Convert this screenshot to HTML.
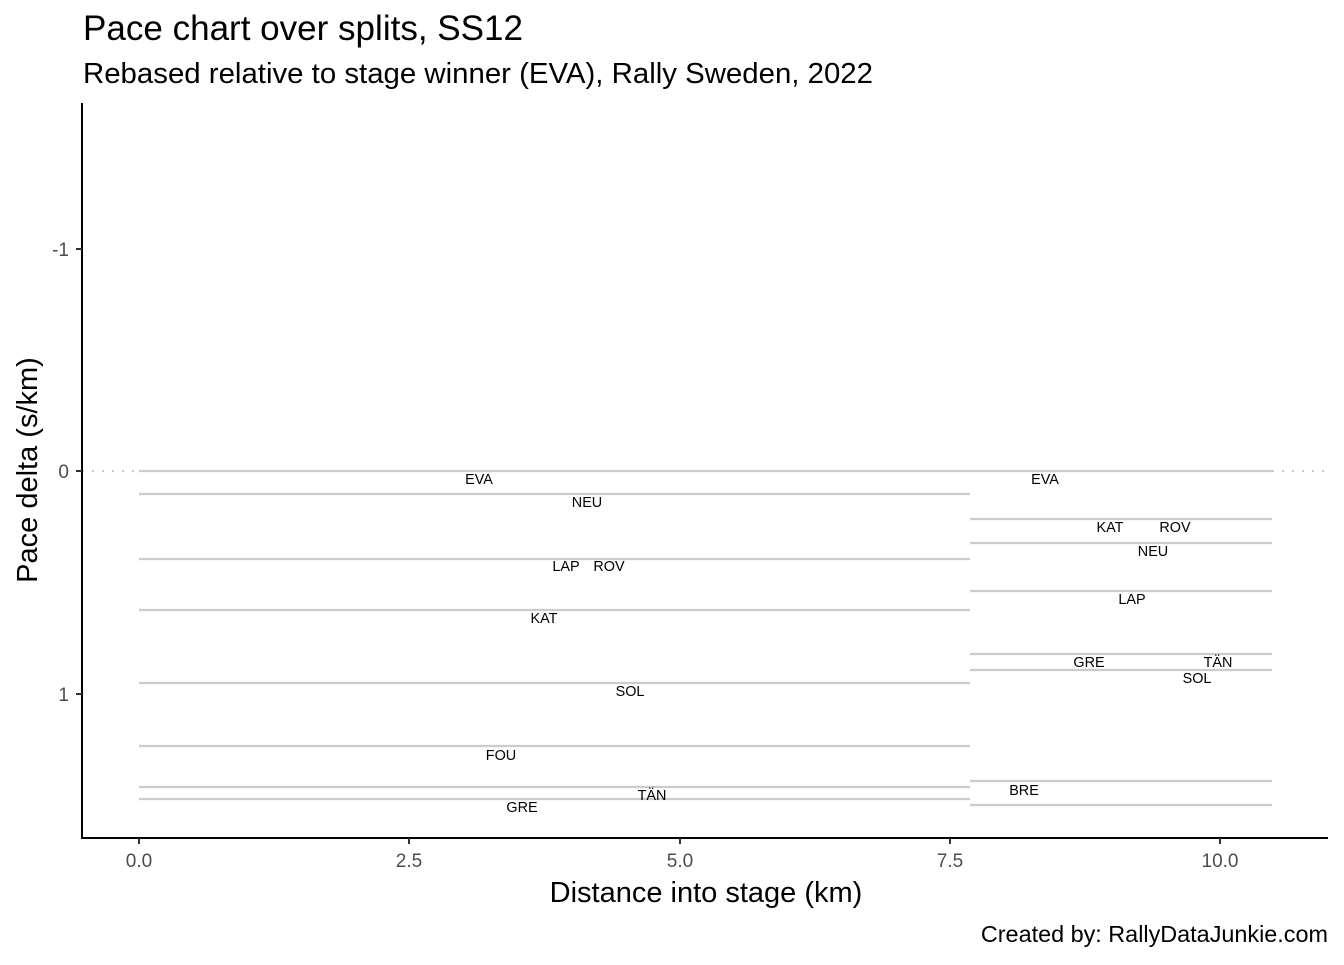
<!DOCTYPE html>
<html><head><meta charset="utf-8"><style>
html,body{margin:0;padding:0;background:#fff}
svg text{font-family:"Liberation Sans",Arial,sans-serif}
</style></head><body>
<svg width="1344" height="960" viewBox="0 0 1344 960" xmlns="http://www.w3.org/2000/svg">
<rect width="1344" height="960" fill="#fff"/>
<text x="83" y="40" font-size="35" fill="#000" textLength="440" lengthAdjust="spacingAndGlyphs">Pace chart over splits, SS12</text>
<text x="83" y="83" font-size="29" fill="#000" textLength="790" lengthAdjust="spacingAndGlyphs">Rebased relative to stage winner (EVA), Rally Sweden, 2022</text>
<line x1="82" y1="471" x2="1328" y2="471" stroke="#cccccc" stroke-width="2" stroke-dasharray="2,8"/>
<g stroke="#cccccc" stroke-width="2.2">
<line x1="139" x2="970" y1="471" y2="471"/>
<line x1="139" x2="970" y1="494" y2="494"/>
<line x1="139" x2="970" y1="559" y2="559"/>
<line x1="139" x2="970" y1="610" y2="610"/>
<line x1="139" x2="970" y1="683" y2="683"/>
<line x1="139" x2="970" y1="746" y2="746"/>
<line x1="139" x2="970" y1="787" y2="787"/>
<line x1="139" x2="970" y1="799" y2="799"/>
<line x1="970" x2="1272" y1="471" y2="471"/>
<line x1="970" x2="1272" y1="519" y2="519"/>
<line x1="970" x2="1272" y1="543" y2="543"/>
<line x1="970" x2="1272" y1="591" y2="591"/>
<line x1="970" x2="1272" y1="654" y2="654"/>
<line x1="970" x2="1272" y1="670" y2="670"/>
<line x1="970" x2="1272" y1="781" y2="781"/>
<line x1="970" x2="1272" y1="805" y2="805"/>
</g>
<g font-size="14.4" fill="#000" text-anchor="middle">
<text x="479" y="484">EVA</text>
<text x="587" y="507">NEU</text>
<text x="566" y="571">LAP</text>
<text x="609" y="571">ROV</text>
<text x="544" y="623">KAT</text>
<text x="630" y="696">SOL</text>
<text x="501" y="760">FOU</text>
<text x="652" y="800">TÄN</text>
<text x="522" y="812">GRE</text>
<text x="1045" y="484">EVA</text>
<text x="1110" y="532">KAT</text>
<text x="1175" y="532">ROV</text>
<text x="1153" y="556">NEU</text>
<text x="1132" y="604">LAP</text>
<text x="1089" y="667">GRE</text>
<text x="1218" y="667">TÄN</text>
<text x="1197" y="683">SOL</text>
<text x="1024" y="795">BRE</text>
</g>
<g stroke="#000" stroke-width="2">
<line x1="82" y1="103" x2="82" y2="839"/>
<line x1="81" y1="838" x2="1328" y2="838"/>
</g>
<g stroke="#333" stroke-width="2">
<line x1="76" x2="82" y1="249" y2="249"/>
<line x1="76" x2="82" y1="471" y2="471"/>
<line x1="76" x2="82" y1="694" y2="694"/>
<line x1="139" x2="139" y1="838" y2="844"/>
<line x1="409" x2="409" y1="838" y2="844"/>
<line x1="680" x2="680" y1="838" y2="844"/>
<line x1="950" x2="950" y1="838" y2="844"/>
<line x1="1220" x2="1220" y1="838" y2="844"/>
</g>
<g font-size="19" fill="#4d4d4d">
<text x="69" y="256" text-anchor="end">-1</text>
<text x="69" y="478" text-anchor="end">0</text>
<text x="69" y="701" text-anchor="end">1</text>
<g text-anchor="middle">
<text x="139" y="867">0.0</text>
<text x="409" y="867">2.5</text>
<text x="680" y="867">5.0</text>
<text x="950" y="867">7.5</text>
<text x="1220" y="867">10.0</text>
</g></g>
<text x="706" y="902" font-size="29" text-anchor="middle" fill="#000">Distance into stage (km)</text>
<text transform="translate(37,470) rotate(-90)" font-size="29" text-anchor="middle" fill="#000">Pace delta (s/km)</text>
<text x="1328" y="942" font-size="23.4" text-anchor="end" fill="#000">Created by: RallyDataJunkie.com</text>
</svg>
</body></html>
